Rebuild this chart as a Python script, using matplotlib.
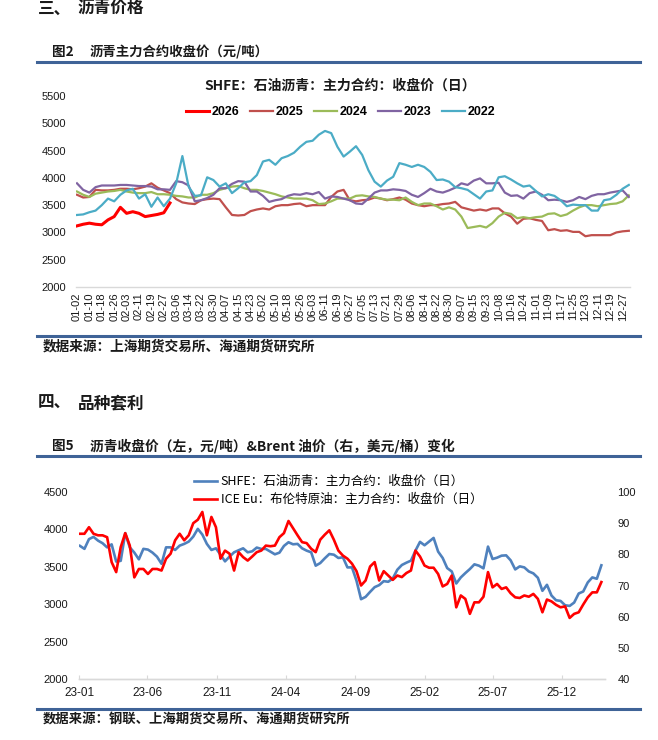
import matplotlib
matplotlib.use('Agg')
import matplotlib.pyplot as plt
import numpy as np
import pandas as pd
from matplotlib.lines import Line2D

plt.rcParams['font.family'] = ['Liberation Sans', 'Noto Sans CJK SC', 'DejaVu Sans']
CJK = ['Noto Sans CJK SC', 'DejaVu Sans']

# ---------------- Chart 1 data (category axis, one value every 4 categories) ----------------
xlabels = ['01-02', '01-10', '01-18', '01-26', '02-03', '02-11', '02-19', '02-27', '03-06', '03-14',
           '03-22', '03-30', '04-07', '04-15', '04-23', '05-02', '05-10', '05-18', '05-26', '06-03',
           '06-11', '06-19', '06-27', '07-05', '07-13', '07-21', '07-29', '08-06', '08-14', '08-22',
           '08-30', '09-07', '09-15', '09-23', '10-08', '10-16', '10-24', '11-01', '11-09', '11-17',
           '11-25', '12-03', '12-11', '12-19', '12-27']
years = ['2026', '2025', '2024', '2023', '2022']

y2026 = [3120, 3150, 3170, 3150, 3140, 3230, 3290, 3460, 3350, 3380,
         3350, 3290, 3310, 3330, 3360, 3540]
y2025 = [3690, 3640, 3650, 3780, 3770, 3770, 3780, 3800, 3800, 3790,
         3810, 3840, 3900, 3820, 3770, 3720, 3610, 3550, 3530, 3520,
         3590, 3610, 3620, 3610, 3460, 3320, 3310, 3320, 3390, 3420,
         3440, 3420, 3480, 3500, 3500, 3520, 3530, 3480, 3500, 3500,
         3500, 3650, 3750, 3780, 3590, 3570, 3590, 3600, 3640, 3620,
         3590, 3610, 3640, 3600, 3530, 3500, 3480, 3500, 3500, 3520,
         3530, 3560, 3460, 3430, 3400, 3420, 3400, 3440, 3440, 3350,
         3290, 3160, 3250, 3260, 3230, 3210, 3040, 3060, 3030, 3040,
         3010, 3010, 2930, 2950, 2950, 2950, 2950, 3000, 3020, 3030]
y2024 = [3750, 3690, 3650, 3710, 3730, 3750, 3760, 3780, 3750, 3730,
         3720, 3720, 3740, 3700, 3700, 3690, 3670, 3660, 3640, 3640,
         3690, 3690, 3720, 3780, 3810, 3840, 3850, 3810, 3780, 3780,
         3760, 3730, 3700, 3660, 3640, 3620, 3620, 3620, 3590, 3520,
         3530, 3570, 3620, 3620, 3620, 3670, 3680, 3660, 3650, 3620,
         3600, 3600, 3590, 3640, 3560, 3500, 3530, 3530, 3480, 3420,
         3460, 3420, 3290, 3080, 3100, 3120, 3090, 3170, 3290, 3360,
         3340, 3260, 3280, 3260, 3280, 3290, 3340, 3350, 3300, 3330,
         3400, 3460, 3500, 3500, 3480, 3500, 3520, 3530, 3570, 3680]
y2023 = [3900, 3780, 3730, 3830, 3860, 3860, 3860, 3870, 3870, 3860,
         3850, 3850, 3840, 3790, 3790, 3780, 3940, 3920, 3860, 3570,
         3590, 3630, 3690, 3810, 3810, 3890, 3940, 3930, 3750, 3750,
         3670, 3560, 3590, 3610, 3670, 3700, 3690, 3720, 3700, 3740,
         3620, 3660, 3650, 3620, 3590, 3530, 3520, 3620, 3730, 3770,
         3770, 3790, 3780, 3760, 3690, 3650, 3720, 3800, 3750, 3730,
         3770, 3820, 3900, 3870, 3950, 3990, 3900, 3900, 3910, 3730,
         3670, 3680, 3620, 3720, 3750, 3690, 3590, 3600, 3590, 3560,
         3590, 3650, 3610, 3670, 3700, 3700, 3730, 3750, 3770, 3650]
y2022 = [3320, 3330, 3370, 3400, 3500, 3620, 3570, 3690, 3770, 3800,
         3620, 3700, 3470, 3640, 3480, 3620, 3900, 4400, 3840, 3670,
         3680, 4010, 3960, 3840, 3900, 3720, 3810, 3920, 3940, 4050,
         4300, 4330, 4240, 4360, 4400, 4460, 4570, 4660, 4680, 4790,
         4860, 4820, 4570, 4390, 4480, 4580, 4420, 4140, 3930, 3840,
         3950, 4020, 4270, 4240, 4200, 4240, 4200, 4110, 3960, 3970,
         3930, 3830, 3810, 3780, 3700, 3620, 3750, 3770, 4010, 4030,
         3970, 3900, 3840, 3860, 3760, 3660, 3700, 3670, 3590, 3480,
         3510, 3500, 3500, 3400, 3400, 3590, 3610, 3690, 3800, 3870]

# ---------------- Chart 2 data (one value every 10 days from 2023-01-03) ----------------
shfe = [3780, 3740, 3870, 3900, 3850, 3815, 3760, 3800, 3570, 3580,
        3950, 3760, 3690, 3600, 3740, 3730, 3690, 3635, 3540, 3760,
        3760, 3725, 3783, 3806, 3837, 3904, 4007, 3931, 3806, 3725,
        3747, 3662, 3573, 3636, 3694, 3721, 3747, 3694, 3707, 3757,
        3739, 3739, 3703, 3667, 3689, 3779, 3828, 3801, 3806, 3747,
        3716, 3694, 3515, 3550, 3613, 3671, 3662, 3618, 3627, 3492,
        3492, 3313, 3067, 3098, 3165, 3228, 3255, 3308, 3300, 3344,
        3461, 3524, 3555, 3582, 3716, 3833, 3788, 3837, 3886, 3703,
        3618, 3483, 3438, 3277, 3358, 3416, 3470, 3533, 3515, 3479,
        3770, 3604, 3622, 3649, 3653, 3586, 3465, 3506, 3492, 3438,
        3412, 3353, 3179, 3259, 3116, 3053, 3044, 2986, 2977, 3022,
        3143, 3170, 3291, 3358, 3340, 3520]
brent = [86.6, 86.6, 88.7, 86.6, 86.1, 86.1, 85.5, 77.5, 74.3, 82.3,
         86.8, 82.8, 72.6, 75.3, 75.3, 73.7, 75.3, 75.3, 74.8, 78.6,
         80.2, 84.5, 86.6, 84.5, 86.1, 90.0, 91.1, 93.6, 86.1, 92.0,
         88.7, 78.6, 81.2, 80.2, 74.8, 80.7, 79.1, 78.0, 79.3, 80.7,
         81.2, 82.8, 82.6, 82.8, 85.5, 86.8, 90.7, 88.4, 86.1, 83.9,
         83.6, 81.8, 80.7, 84.7, 86.3, 87.7, 84.7, 81.2, 79.6, 78.6,
         77.0, 74.6, 70.0, 71.6, 76.1, 77.5, 71.6, 74.6, 73.2, 71.8,
         73.2, 72.7, 74.0, 74.8, 81.2, 79.3, 76.4, 75.7, 75.7, 73.7,
         69.7, 70.5, 73.2, 63.0, 66.8, 65.7, 60.9, 64.6, 64.6, 66.4,
         74.3, 69.4, 70.5, 68.9, 69.4, 67.5, 66.2, 66.0, 66.8, 66.4,
         67.3, 65.7, 61.4, 65.5, 64.9, 63.8, 63.0, 63.3, 59.6, 60.9,
         61.4, 63.9, 66.2, 67.8, 67.8, 71.1]
dates = pd.date_range('2023-01-03', periods=len(shfe), freq='10D')

W, H = 658, 740
fig = plt.figure(figsize=(W / 100, H / 100), dpi=100)


def fx(px):
    return px / W


def fy(py):
    return 1 - py / H


RULE = '#3F6397'
GRID = '#D9D9D9'
TXT = '#1A1A1A'

# ---------------- headers / rules / sources ----------------
fig.text(fx(38), fy(9), '三、', family=CJK, fontsize=12, weight='bold', va='center', color=TXT)
fig.text(fx(78), fy(9), '沥青价格', family=CJK, fontsize=12, weight='bold', va='center', color=TXT)
fig.text(fx(52), fy(52), '图2', family=CJK, fontsize=9.8, weight='bold', va='center', color=TXT)
fig.text(fx(90), fy(52), '沥青主力合约收盘价（元/吨）', family=CJK, fontsize=9.6, weight='bold', va='center', color=TXT)
fig.add_artist(Line2D([fx(37), fx(640)], [fy(62), fy(62)], transform=fig.transFigure, color=RULE, lw=2.2))
fig.add_artist(Line2D([fx(37), fx(640)], [fy(336), fy(336)], transform=fig.transFigure, color=RULE, lw=2.2))
fig.text(fx(43), fy(346), '数据来源：上海期货交易所、海通期货研究所', family=CJK, fontsize=9.8, weight='bold', va='center', color=TXT)

fig.text(fx(38), fy(403), '四、', family=CJK, fontsize=12, weight='bold', va='center', color=TXT)
fig.text(fx(78), fy(403), '品种套利', family=CJK, fontsize=12, weight='bold', va='center', color=TXT)
fig.text(fx(52), fy(446), '图5', family=CJK, fontsize=9.8, weight='bold', va='center', color=TXT)
fig.text(fx(90), fy(446), '沥青收盘价（左，元/吨）&Brent 油价（右，美元/桶）变化', family=CJK, fontsize=9.9, weight='bold', va='center', color=TXT)
fig.add_artist(Line2D([fx(37), fx(640)], [fy(456), fy(456)], transform=fig.transFigure, color=RULE, lw=2.2))
fig.add_artist(Line2D([fx(37), fx(640)], [fy(709), fy(709)], transform=fig.transFigure, color=RULE, lw=2.2))
fig.text(fx(43), fy(720), '数据来源：钢联、上海期货交易所、海通期货研究所', family=CJK, fontsize=9.6, weight='bold', va='center', color=TXT)

# ---------------- Chart 1 ----------------
ax1 = fig.add_axes([fx(76.2), fy(287), 553.4 / W, 191 / H])
series = {'2025': (y2025, '#C0504D', 1.6),
          '2024': (y2024, '#9BBB59', 1.6),
          '2023': (y2023, '#8064A2', 1.6),
          '2022': (y2022, '#4BACC6', 1.6),
          '2026': (y2026, '#FF0000', 2.2)}
handles = {}
for name, (vals, col, lw) in series.items():
    h, = ax1.plot(np.arange(len(vals)) * 4, vals, color=col, lw=lw, solid_joinstyle='round')
    handles[name] = h
ax1.set_xlim(-0.5, 356.5)
ax1.set_ylim(2000, 5500)
ax1.set_yticks(range(2000, 5501, 500))
ax1.set_xticks(np.arange(len(xlabels)) * 8)
ax1.set_xticklabels(xlabels, rotation=90, fontsize=8)
for lab in ax1.get_yticklabels():
    lab.set_fontsize(8)
ax1.tick_params(axis='both', length=0, colors=TXT)
ax1.tick_params(axis='y', pad=7)
ax1.tick_params(axis='x', pad=4)
for s in ['left', 'right', 'top']:
    ax1.spines[s].set_visible(False)
ax1.spines['bottom'].set_color(GRID)
ax1.spines['bottom'].set_linewidth(1.0)
fig.text(fx(340), fy(86), 'SHFE：石油沥青：主力合约：收盘价（日）', family=CJK, fontsize=10,
         weight='bold', ha='center', va='center', color=TXT)
ax1.legend([handles[y] for y in years], years, loc='upper left',
           bbox_to_anchor=(fx(186), fy(106)), bbox_transform=fig.transFigure,
           ncol=5, frameon=False, prop={'weight': 'bold', 'size': 9},
           handlelength=1.8, handletextpad=0.25, columnspacing=0.85,
           borderpad=0, borderaxespad=0)

# ---------------- Chart 2 ----------------
ax2 = fig.add_axes([fx(79), fy(679), 526 / W, 187 / H])
h1, = ax2.plot(dates, shfe, color='#4F81BD', lw=1.9, solid_joinstyle='round')
axr = ax2.twinx()
h2, = axr.plot(dates, brent, color='#FF0000', lw=1.9, solid_joinstyle='round')
ax2.set_xlim(pd.Timestamp('2023-01-01'), pd.Timestamp('2026-03-06'))
ax2.set_ylim(2000, 4500)
ax2.set_yticks(range(2000, 4501, 500))
axr.set_ylim(40, 100)
axr.set_yticks(range(40, 101, 10))
xt = pd.date_range('2023-01-01', '2025-12-01', freq='5MS')
ax2.set_xticks(xt)
ax2.set_xticklabels([t.strftime('%y-%m') for t in xt], fontsize=8.5)
for lab in ax2.get_yticklabels() + axr.get_yticklabels():
    lab.set_fontsize(8)
ax2.tick_params(axis='y', length=0, pad=8, colors=TXT)
axr.tick_params(axis='y', length=0, pad=9, colors=TXT)
ax2.tick_params(axis='x', direction='in', length=3, color=GRID, labelcolor=TXT, pad=6)
for a in (ax2, axr):
    for s in ['left', 'right', 'top']:
        a.spines[s].set_visible(False)
    a.spines['bottom'].set_color(GRID)
    a.spines['bottom'].set_linewidth(1.0)
axr.legend([h1, h2], ['SHFE：石油沥青：主力合约：收盘价（日）', 'ICE Eu：布伦特原油：主力合约：收盘价（日）'],
           loc='upper left', bbox_to_anchor=(fx(194), fy(475)), bbox_transform=fig.transFigure,
           frameon=False, prop={'family': CJK, 'size': 9}, handlelength=1.85,
           handletextpad=0.3, labelspacing=0.4, borderpad=0, borderaxespad=0)

fig.savefig('out.png', dpi=100, facecolor='white')
